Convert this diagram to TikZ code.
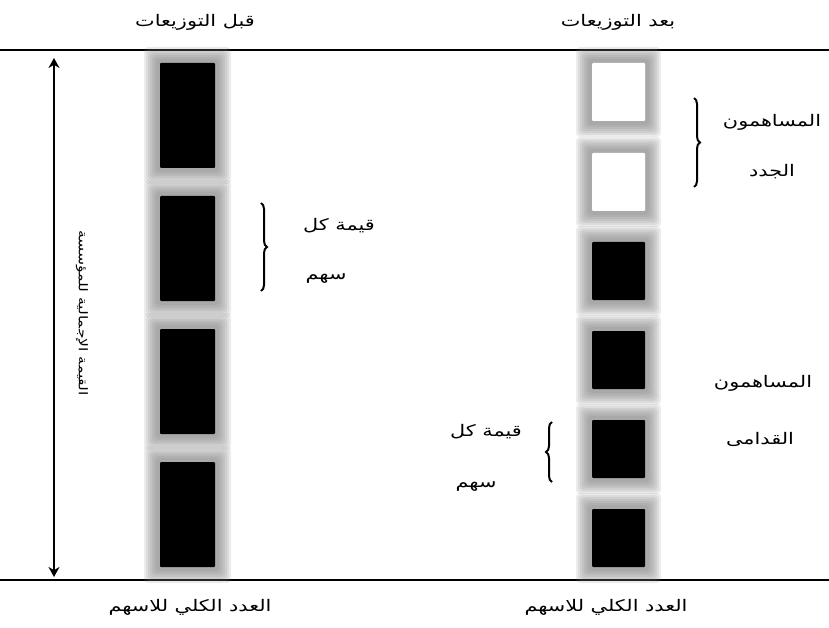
\documentclass[tikz,border=0pt]{standalone}
\usepackage{fontspec}
\newfontfamily\arabicfont[Script=Arabic, FakeStretch=1.3]{DejaVu Sans}
\TeXXeTstate=1
\usetikzlibrary{decorations.pathreplacing,arrows.meta}
\tikzset{
  lbl/.style={font=\arabicfont\fontsize{16}{18}\selectfont, inner sep=0pt},
  glow/.style={fill=gray, fill opacity=0.15, rounded corners=4pt},
  brc/.style={decorate, decoration={brace, amplitude=6pt}, line width=2pt},
}
\begin{document}
\begin{tikzpicture}[x=1pt, y=-1pt, >=Stealth]
    \useasboundingbox (0,0) rectangle (829,628);
    % Hai خط أفقي
    \draw[line width=1.2pt] (0,50) -- (829,50);
    \draw[line width=1.2pt] (0,580) -- (829,580);

    % Cột trái: 4 ô đen
    \foreach \t in {63,196,329,462}{
      \foreach \k in {16,14,...,4}
        \fill[glow] (160-\k,\t-\k) rectangle (215+\k,\t+105+\k);
      \fill[rounded corners=1pt] (160,\t) rectangle (215,\t+105);
    }
    % Cột phải: 2 ô trắng, 4 ô đen
    \foreach \t/\c in {63/white,153/white,242/black,331/black,420/black,509/black}{
      \foreach \k in {16,14,...,4}
        \fill[glow] (592-\k,\t-\k) rectangle (645+\k,\t+58+\k);
      \fill[\c, rounded corners=1pt] (592,\t) rectangle (645,\t+58);
    }

    % Tiêu đề
    \node[lbl] (before) at (195,22) {\beginR قبل التوزيعات\endR};
    \node[lbl] (after) at (618,22) {\beginR بعد التوزيعات\endR};
    \node[lbl] (totalL) at (190,607) {\beginR العدد الكلي للاسهم\endR};
    \node[lbl] (totalR) at (606,607) {\beginR العدد الكلي للاسهم\endR};

    % Mũi tên giá trị tổng
    \coordinate (vtop) at (54,58);
    \coordinate (vbot) at (54,577);
    \draw[{Stealth[length=10pt,width=11pt]}-{Stealth[length=10pt,width=11pt]}, line width=2.4pt] (vtop) -- (vbot);
    \node[lbl, font=\arabicfont\fontsize{12}{14}\selectfont, rotate=-90] (value) at (82,313) {\beginR القيمة الإجمالية للمؤسسة\endR};

    % Ngoặc bên trái
    \coordinate (b1a) at (261,203);
    \coordinate (b1b) at (261,291);
    \draw[brc] (b1a) -- (b1b);
    \node[lbl] (share1) at (339,226) {\beginR قيمة كل\endR};
    \node[lbl] (share1b) at (326,279) {\beginR سهم\endR};

    % Ngoặc cổ đông mới
    \coordinate (b2a) at (694,98);
    \coordinate (b2b) at (694,187);
    \draw[brc] (b2a) -- (b2b);
    \node[lbl] (newA) at (772,122) {\beginR المساهمون\endR};
    \node[lbl] (newB) at (772,172) {\beginR الجدد\endR};

    % Cổ đông cũ
    \node[lbl] (oldA) at (763,383) {\beginR المساهمون\endR};
    \node[lbl] (oldB) at (760,439) {\beginR القدامى\endR};

    % Ngoặc bên phải dưới
    \coordinate (b3a) at (552,482);
    \coordinate (b3b) at (552,422);
    \draw[brc] (b3a) -- (b3b);
    \node[lbl] (share2) at (486,432) {\beginR قيمة كل\endR};
    \node[lbl] (share2b) at (476,487) {\beginR سهم\endR};
\end{tikzpicture}
\end{document}
